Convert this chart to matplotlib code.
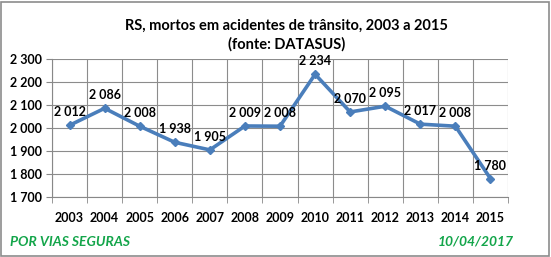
import matplotlib
matplotlib.use("Agg")
import matplotlib.pyplot as plt
from matplotlib.patches import Rectangle
from matplotlib.ticker import FixedLocator, FuncFormatter

years = [2003, 2004, 2005, 2006, 2007, 2008, 2009, 2010, 2011, 2012, 2013, 2014, 2015]
deaths = [2012, 2086, 2008, 1938, 1905, 2009, 2008, 2234, 2070, 2095, 2017, 2008, 1780]
y_ticks = [1700, 1800, 1900, 2000, 2100, 2200, 2300]

title = "RS, mortos em acidentes de trânsito, 2003 a 2015\n(fonte: DATASUS)"
left_note = "POR VIAS SEGURAS"
right_note = "10/04/2017"

plt.rcParams["font.family"] = ["Lato", "DejaVu Sans"]


def fmt(v, _pos=None):
    return f"{int(v):,}".replace(",", " ")


fig = plt.figure(figsize=(5.51, 2.57), dpi=100)
ax = fig.add_axes([0.0944, 0.2335, 0.8276, 0.5365])

x = list(range(len(years)))
ax.plot(x, deaths, color="#4a7ebb", lw=2.6, marker="D", ms=4.5, zorder=3)
for xi, v in zip(x, deaths):
    ax.annotate(fmt(v), (xi, v), xytext=(0, 5), textcoords="offset points",
                ha="center", va="bottom", fontsize=9, fontweight="bold")

ax.set_xlim(-0.5, len(years) - 0.5)
ax.set_ylim(1700, 2300)
ax.set_yticks(y_ticks)
ax.yaxis.set_major_formatter(FuncFormatter(fmt))
ax.set_xticks(x)
ax.set_xticklabels([str(y) for y in years])
ax.xaxis.set_minor_locator(FixedLocator([i - 0.5 for i in range(len(years) + 1)]))
ax.tick_params(axis="x", which="major", length=0, pad=11, labelsize=9)
ax.tick_params(axis="x", which="minor", length=4, color="#888888")
ax.tick_params(axis="y", length=4, color="#888888", labelsize=9, pad=3)
for lab in ax.get_xticklabels() + ax.get_yticklabels():
    lab.set_fontweight("bold")

ax.grid(True, axis="y", color="#8c8c8c", lw=0.8)
ax.grid(True, axis="x", which="minor", color="#8c8c8c", lw=0.8)
for side in ["top", "right"]:
    ax.spines[side].set_visible(False)
ax.spines["left"].set_color("#888888")
ax.spines["bottom"].set_color("#888888")
ax.set_axisbelow(True)

fig.text(0.52, 0.925, title, ha="center", va="top", fontsize=10.5, fontweight="bold",
         linespacing=1.3)
fig.text(0.018, 0.06, left_note, ha="left", va="center", fontsize=10, color="#13a54a",
         fontweight="bold", style="italic")
fig.text(0.932, 0.06, right_note, ha="right", va="center", fontsize=10, color="#13a54a",
         fontweight="bold", style="italic")

fig.patches.append(Rectangle((0.002, 0.004), 0.995, 0.99, transform=fig.transFigure,
                             fill=False, edgecolor="#8c8c8c", lw=1.2))

fig.savefig("out.png", dpi=100)
